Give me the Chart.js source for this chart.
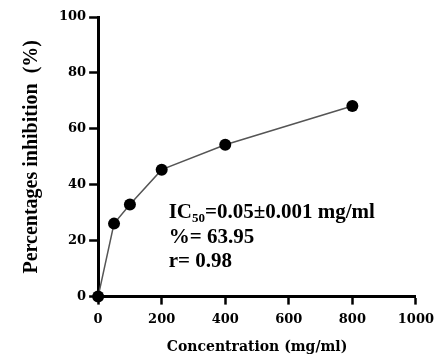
<!DOCTYPE html>
<html>
<head>
<meta charset="utf-8">
<script src="https://cdn.jsdelivr.net/npm/chart.js@4"></script>
<style>
  body { margin: 0; background: #fff; }
  #inhibChart { display: block; }
</style>
</head>
<body>
<canvas id="inhibChart" width="435" height="356"></canvas>
<script>
// Datos
const concentration = [0, 50, 100, 200, 400, 800];   // mg/ml
const inhibition = [0, 26.1, 32.9, 45.4, 54.3, 68.2]; // %
const xTickValues = [0, 200, 400, 600, 800, 1000];
const yTickValues = [0, 20, 40, 60, 80, 100];
const statsLines = ['IC50=0.05±0.001 mg/ml', '%= 63.95', 'r= 0.98'];

document.addEventListener('DOMContentLoaded', function() {

    const ctx = document.getElementById('inhibChart');

    const points = concentration.map((c, i) => ({ x: c, y: inhibition[i] }));

    const tickFont = { family: 'DejaVu Serif', weight: 'bold', size: 13 };

    // Texto con IC50, % y r dentro del área del gráfico
    const statsText = {
        id: 'statsText',
        afterDraw(chart) {
            const c = chart.ctx;
            const xs = chart.scales.x, ys = chart.scales.y;
            const x0 = xs.getPixelForValue(222);
            let y0 = ys.getPixelForValue(28);
            c.save();
            c.fillStyle = '#000';
            c.textBaseline = 'alphabetic';
            c.textAlign = 'left';
            const big = 'bold 21px "Liberation Serif"';
            const small = 'bold 13px "Liberation Serif"';
            // primera línea con subíndice
            c.font = big;
            let x = x0;
            c.fillText('IC', x, y0); x += c.measureText('IC').width;
            c.font = small;
            c.fillText('50', x, y0 + 4); x += c.measureText('50').width;
            c.font = big;
            c.fillText('=0.05±0.001 mg/ml', x, y0);
            // resto de líneas
            for (let i = 1; i < statsLines.length; i++) {
                c.fillText(statsLines[i], x0, y0 + i * 24.5);
            }
            c.restore();
        }
    };

    new Chart(ctx, {
        type: 'scatter',
        data: {
            datasets: [{
                data: points,
                showLine: true,
                clip: false, // el punto (0,0) se ve entero sobre los ejes
                borderColor: '#555',
                borderWidth: 1.5,
                pointRadius: 6,
                pointBackgroundColor: '#000',
                pointBorderColor: '#000',
                pointBorderWidth: 0
            }]
        },
        options: {
            responsive: false,
            animation: false,
            layout: { padding: { left: 20, right: 0, top: 17, bottom: 0 } },
            plugins: {
                legend: { display: false },
                tooltip: { enabled: false }
            },
            scales: {
                x: {
                    type: 'linear',
                    min: 0,
                    max: 1000,
                    afterBuildTicks: (axis) => { axis.ticks = xTickValues.map(v => ({ value: v })); },
                    // el "1000" casi toca el borde derecho en el original
                    afterFit: (axis) => { axis.paddingRight = Math.max(0, axis.paddingRight - 6); },
                    grid: { drawOnChartArea: false, tickLength: 8, tickWidth: 2.5, tickColor: '#000' },
                    border: { display: true, color: '#000', width: 3 },
                    ticks: { color: '#000', font: tickFont, padding: 7, maxRotation: 0, callback: (v) => String(v) },
                    title: {
                        display: true,
                        text: 'Concentration (mg/ml)',
                        color: '#000',
                        font: { family: 'DejaVu Serif', weight: 'bold', size: 14 },
                        padding: { top: 5, bottom: 0 }
                    }
                },
                y: {
                    type: 'linear',
                    min: 0,
                    max: 100,
                    afterBuildTicks: (axis) => { axis.ticks = yTickValues.map(v => ({ value: v })); },
                    grid: { drawOnChartArea: false, tickLength: 9, tickWidth: 2.5, tickColor: '#000' },
                    border: { display: true, color: '#000', width: 3 },
                    ticks: { color: '#000', font: tickFont, padding: 3, callback: (v) => String(v) },
                    title: {
                        display: true,
                        text: 'Percentages inhibition  (%)',
                        color: '#000',
                        font: { family: 'Liberation Serif', weight: 'bold', size: 20 },
                        padding: { top: 0, bottom: 12 }
                    }
                }
            }
        },
        plugins: [statsText]
    });
});
</script>
</body>
</html>
